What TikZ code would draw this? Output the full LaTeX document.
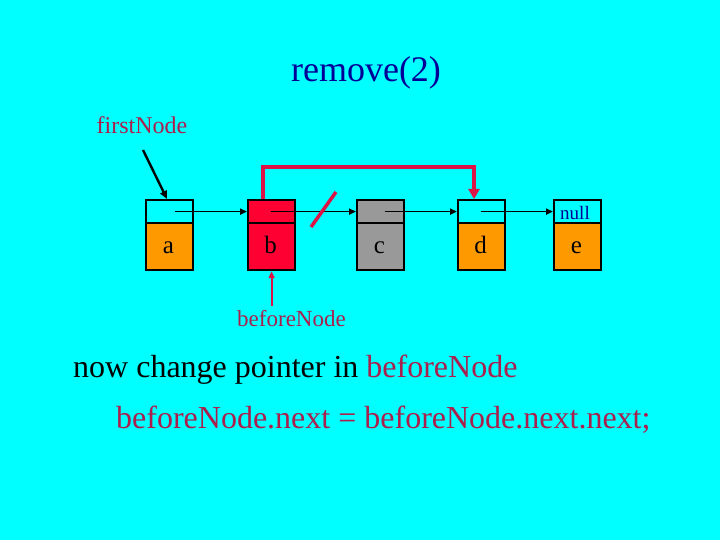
\documentclass[tikz,border=0pt]{standalone}
\usepackage{fontspec}
\setmainfont{Liberation Serif}
\usetikzlibrary{arrows.meta,calc}
\definecolor{bg}{RGB}{0,255,255}
\definecolor{orng}{RGB}{255,153,0}
\definecolor{redfill}{RGB}{255,0,51}
\definecolor{grayfill}{RGB}{153,153,153}
\definecolor{crim}{RGB}{220,20,70}
\definecolor{maroon}{RGB}{171,31,77}
\definecolor{navy}{RGB}{0,0,153}
\tikzset{
  cell/.style={draw=black, line width=2.2pt, minimum width=47pt, inner sep=0pt, anchor=north west},
  topcell/.style={cell, minimum height=23pt},
  botcell/.style={cell, minimum height=47pt},
  ptr/.style={draw=black, line width=1.8pt, -{Triangle[length=7pt,width=6pt]}},
  bypass/.style={draw=crim, line width=4pt, -{Triangle[length=10pt,width=11pt]}},
  lbl/.style={font=\fontsize{25}{29}\selectfont, anchor=base}
}
\begin{document}
\begin{tikzpicture}[x=1pt,y=-1pt]
\fill[bg] (0,0) rectangle (720,540);
\useasboundingbox (0,0) rectangle (720,540);
% title
\node[font=\fontsize{36}{42}\selectfont, text=navy, anchor=base, inner sep=0] (title) at (366,82) {remove(2)};
\node[font=\fontsize{24}{28}\selectfont, text=maroon, anchor=base, inner sep=0] (fn) at (142,134) {firstNode};
% cells
\node[topcell, fill=bg] (ta) at (145,199) {};
\node[botcell, fill=orng] (ba) at (145,222) {};
\node[topcell, fill=redfill] (tb) at (247,199) {};
\node[botcell, fill=redfill] (bb) at (247,222) {};
\node[topcell, fill=grayfill] (tc) at (356,199) {};
\node[botcell, fill=grayfill] (bc) at (356,222) {};
\node[topcell, fill=bg] (td) at (457,199) {};
\node[botcell, fill=orng] (bd) at (457,222) {};
\node[topcell, fill=bg] (te) at (553,199) {};
\node[botcell, fill=orng] (be) at (553,222) {};
% letters
\node[lbl, inner sep=0] (la) at (168.5,253) {a};
\node[lbl, inner sep=0] (lb) at (270.5,253) {b};
\node[lbl, inner sep=0] (lc) at (379.5,253) {c};
\node[lbl, inner sep=0] (ld) at (480.5,253) {d};
\node[lbl, inner sep=0] (le) at (576.5,253) {e};
\node[font=\fontsize{19}{22}\selectfont, text=navy, anchor=base, inner sep=0] (nul) at (575,220) {null};
% pointers
\draw[ptr] ([xshift=5pt]ta.center) -- (tb.west);
\draw[ptr] ([xshift=-1pt]tb.center) -- (tc.west);
\draw[ptr] ([xshift=4pt]tc.center) -- (td.west);
\draw[ptr] ([xshift=-1pt]td.center) -- (te.west);
% slash
\draw[crim, line width=3.5pt] (311,227) -- (336,192);
% bypass
\coordinate (k1) at (263,167);
\coordinate (k2) at (474,167);
\draw[bypass] (tb.north -| k1) -- (k1) -- (k2) -- (td.north -| k2);
% firstNode arrow
\coordinate (f1) at (143,150);
\coordinate (f2) at (167,199);
\draw[draw=black, line width=2.4pt, -{Triangle[length=8pt,width=7pt]}] (f1) -- (f2);
% beforeNode
\node[font=\fontsize{23}{27}\selectfont, text=maroon, anchor=base, inner sep=0] (bn) at (291.5,326) {beforeNode};
\coordinate (b1) at (bb.south |- 0,306);
\draw[draw=crim, line width=1.8pt, -{Triangle[length=7pt,width=6pt]}] (b1) -- (bb.south);
% bottom text
\node[font=\fontsize{32}{38}\selectfont, anchor=base west, inner sep=0] (l1) at (73,377) {now change pointer in \textcolor{maroon}{beforeNode}};
\node[font=\fontsize{32}{38}\selectfont, text=maroon, anchor=base west, inner sep=0] (l2) at (116,428) {beforeNode.next = beforeNode.next.next;};
\end{tikzpicture}
\end{document}
